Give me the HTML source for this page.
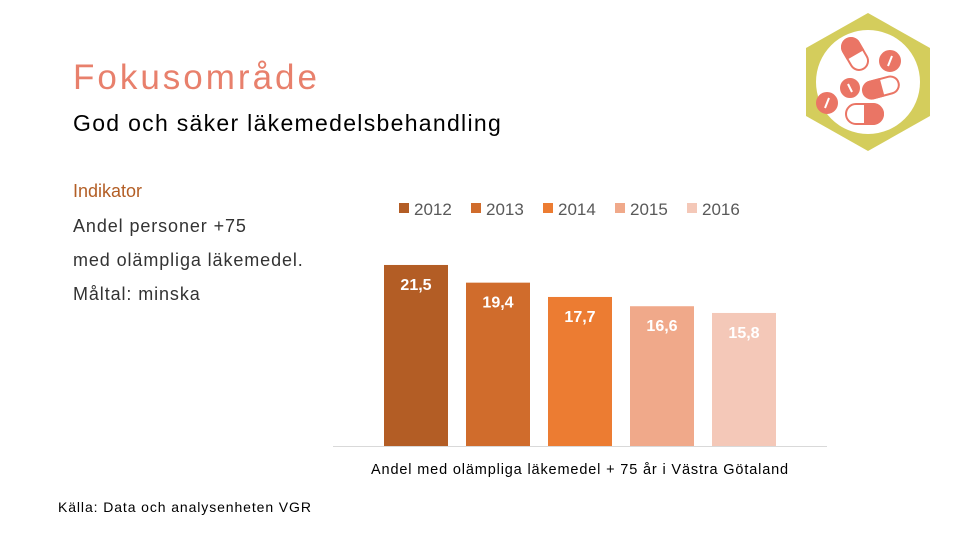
<!DOCTYPE html>
<html><head><meta charset="utf-8"><style>
body{margin:0;width:960px;height:540px;background:#fff;position:relative;overflow:hidden;font-family:"Liberation Sans",sans-serif}
.t{position:absolute;white-space:nowrap}
</style></head><body>
<div class="t" style="left:73px;top:58px;font-size:35px;color:#e8806c;letter-spacing:3px">Fokusområde</div>
<div class="t" style="left:73px;top:110px;font-size:23px;color:#000;letter-spacing:1.3px">God och säker läkemedelsbehandling</div>
<div class="t" style="left:73px;top:181px;font-size:18px;color:#b35e25">Indikator</div>
<div class="t" style="left:73px;top:216px;font-size:18px;color:#333;letter-spacing:0.9px">Andel personer +75</div>
<div class="t" style="left:73px;top:250px;font-size:18px;color:#333;letter-spacing:0.9px">med olämpliga läkemedel.</div>
<div class="t" style="left:73px;top:284px;font-size:18px;color:#333;letter-spacing:0.9px">Måltal: minska</div>
<div class="t" style="left:58px;top:499px;font-size:14px;color:#000;letter-spacing:0.9px">Källa: Data och analysenheten VGR</div>
<svg style="position:absolute;left:0;top:0" width="960" height="540">
<polygon points="868,13 930,48 930,116 868,151 806,116 806,48" fill="#d4cd5c"/>
<circle cx="868" cy="82" r="52" fill="#fff"/>
<g fill="#ea7565" stroke="#ea7565" stroke-width="2">
<rect x="846" y="37" width="18" height="34" rx="9" transform="rotate(-30 855 54)" fill="#fff"/>
<path d="M846 46a9 9 0 0 1 18 0v8h-18z" transform="rotate(-30 855 54)"/>
<rect x="863" y="79" width="36" height="17" rx="8.5" transform="rotate(-15 881 87)" fill="#fff"/>
<path d="M871 79h10v17h-10a8.5 8.5 0 0 1 0-17z" transform="rotate(-15 881 87)"/>
<rect x="846" y="104" width="37" height="20" rx="10" fill="#fff"/>
<path d="M865 104h8a10 10 0 0 1 0 20h-8z"/>
<circle cx="890" cy="61" r="10"/><circle cx="850" cy="88" r="9"/><circle cx="827" cy="103" r="10"/>
</g>
<g stroke="#fff" stroke-width="2"><line x1="892" y1="56" x2="888" y2="66"/><line x1="848" y1="84" x2="852" y2="92"/><line x1="829" y1="98" x2="825" y2="108"/></g>
</svg>
<svg id="chart" style="position:absolute;left:0;top:0" width="960" height="540"></svg>
<script>
const years=["2012","2013","2014","2015","2016"];
const values=[21.5,19.4,17.7,16.6,15.8];
const labels=["21,5","19,4","17,7","16,6","15,8"];
const colors=["#b35d25","#d06c2c","#ec7c32","#f0a98a","#f4c8b8"];
const svg=document.getElementById('chart'),NS="http://www.w3.org/2000/svg";
const base=446,scale=8.42;
const y=v=>base-v*scale, x=i=>384+i*82;
function mk(t,a){const e=document.createElementNS(NS,t);for(const k in a)e.setAttribute(k,a[k]);svg.appendChild(e);return e;}
const ax=mk('line',{x1:333,x2:827,y1:446.5,y2:446.5,stroke:'#d9d9d9'});


values.forEach((v,i)=>{
 const r=mk('rect',{x:x(i),y:y(v),width:64,height:v*scale,fill:colors[i]});
 
 
 const t=mk('text',{x:x(i)+32,y:y(v)+25,'text-anchor':'middle','font-size':16,'font-weight':'bold',fill:'#fff','font-family':'Liberation Sans,sans-serif'});
 t.textContent=labels[i];
 
 
 const lx=399+i*72;
 const s=mk('rect',{x:lx,y:203,width:10,height:10,fill:colors[i]});
 
 
 const lt=mk('text',{x:lx+15,y:215,'font-size':17,fill:'#595959','font-family':'Liberation Sans,sans-serif'});
 lt.textContent=years[i];
 
 
});
const xt=mk('text',{x:580,y:474,'text-anchor':'middle','font-size':14.5,'letter-spacing':'0.85',fill:'#000','font-family':'Liberation Sans,sans-serif'});
xt.textContent="Andel med olämpliga läkemedel + 75 år i Västra Götaland";


</script>
</body></html>
